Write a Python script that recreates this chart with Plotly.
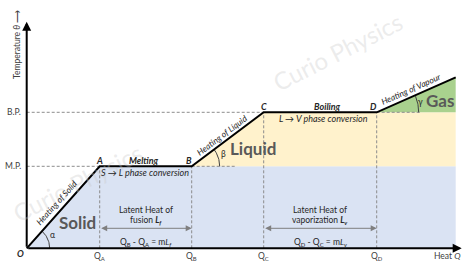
import numpy as np
import plotly.graph_objects as go

# ---- data (heat Q and temperature θ, arbitrary units) ----
point_names = ["O", "A", "B", "C", "D"]
heat_q = [0, 73, 165, 237, 350, 429]          # O, Q_A, Q_B, Q_C, Q_D, end
temperature = [0, 82, 82, 136, 136, 171]      # O, M.P., M.P., B.P., B.P., end
q_tick_labels = ["Q<sub>A</sub>", "Q<sub>B</sub>", "Q<sub>C</sub>", "Q<sub>D</sub>"]
t_tick_labels = ["M.P.", "B.P."]
melting_point = 82
boiling_point = 136

QA, QB, QC, QD, QE = heat_q[1:]
MP, BP, TE = melting_point, boiling_point, temperature[-1]

W, H = 474, 266
X0, Y0 = 26.7, 248.3   # origin position (pixels) -> used for axis ranges only

FONT = "Lato, 'Open Sans', sans-serif"
DARK = "#262626"
GREY_TXT = "#595959"
DASH = "#8c8c8c"

fig = go.Figure()

# ---- phase regions ----
fig.add_trace(go.Scatter(x=[0, QA, QE, QE, 0], y=[0, MP, MP, 0, 0], fill="toself",
                         fillcolor="#dae3f3", line=dict(width=0), mode="lines", hoverinfo="skip"))
fig.add_trace(go.Scatter(x=[QB, QC, QE, QE, QB], y=[MP, BP, BP, MP, MP], fill="toself",
                         fillcolor="#fff2cc", line=dict(width=0), mode="lines", hoverinfo="skip"))
fig.add_trace(go.Scatter(x=[QD, QE, QE, QD], y=[BP, TE, BP, BP], fill="toself",
                         fillcolor="#a9d18e", line=dict(width=0), mode="lines", hoverinfo="skip"))

# ---- dashed guides ----
def dashed(xs, ys):
    fig.add_trace(go.Scatter(x=xs, y=ys, mode="lines", hoverinfo="skip",
                             line=dict(color=DASH, width=1, dash="3px,2px")))

dashed([0, QA], [MP, MP])
dashed([0, QC], [BP, BP])
for q, t in [(QA, MP), (QB, MP), (QC, BP), (QD, BP)]:
    dashed([q, q], [0, t])
dashed([QB, QB + 43], [MP, MP])
dashed([QD, QD + 45], [BP, BP])

# ---- angle arcs ----
def arc(cx, cy, r, ang):
    t = np.linspace(0, ang, 30)
    fig.add_trace(go.Scatter(x=cx + r * np.cos(t), y=cy + r * np.sin(t), mode="lines",
                             hoverinfo="skip", line=dict(color="#404040", width=1)))

a_alpha = np.arctan2(MP, QA)
a_beta = np.arctan2(BP - MP, QC - QB)
a_gamma = np.arctan2(TE - BP, QE - QD)
arc(0, 0, 23, a_alpha)
arc(QB, MP, 28, a_beta)
arc(QD, BP, 42, a_gamma)

# ---- heating curve ----
fig.add_trace(go.Scatter(x=heat_q, y=temperature, mode="lines", hoverinfo="skip",
                         line=dict(color="black", width=2)))

ann = []

def arrow(x, y, ax, ay, color="black", width=2, head=2, size=1, side="end"):
    ann.append(dict(x=x, y=y, ax=ax, ay=ay, xref="x", yref="y", axref="x", ayref="y",
                    showarrow=True, arrowhead=head, arrowsize=size, arrowwidth=width,
                    arrowcolor=color, arrowside=side, startarrowhead=head,
                    startarrowsize=size, text=""))

# axes
arrow(QE + 6, 0, 0, 0, width=2, size=0.9)
arrow(0, 226.6, 0, 0, width=2, size=0.9)
# latent heat arrows
arrow(QB, 20, QA, 20, color="#7f7f7f", width=1, head=2, size=1.2, side="end+start")
arrow(QD, 20, QC, 20, color="#7f7f7f", width=1, head=2, size=1.2, side="end+start")

def text(x, y, s, size=8, color=DARK, angle=0, xanchor="center", bold=False, italic=False):
    if italic:
        s = "<i>" + s + "</i>"
    if bold:
        s = "<b>" + s + "</b>"
    ann.append(dict(x=x, y=y, xref="x", yref="y", text=s, showarrow=False,
                    textangle=angle, xanchor=xanchor, yanchor="middle",
                    font=dict(family=FONT, size=size, color=color)))

# watermarks
text(311, 197, "Curio Physics", size=24, color="rgba(200,200,200,0.35)", angle=-27)
text(51, 66, "Curio Physics", size=24, color="rgba(200,200,200,0.35)", angle=-27)

# point labels
text(-6, -5, "O", size=9, bold=True, italic=True)
text(QA, MP + 6, "A", size=9, bold=True, italic=True)
text(QB - 3, MP + 6, "B", size=9, bold=True, italic=True)
text(QC, BP + 6, "C", size=9, bold=True, italic=True)
text(QD - 3, BP + 6, "D", size=9, bold=True, italic=True)

# axis tick labels
for q, lab in zip(heat_q[1:5], q_tick_labels):
    text(q, -8, lab, size=8.5, color="#404040")
text(-4, MP, t_tick_labels[0], size=8.5, color="#404040", xanchor="right")
text(-4, BP, t_tick_labels[1], size=8.5, color="#404040", xanchor="right")
text(421, -8, "Heat <i>Q</i>", size=8.5, color="#404040")
text(-9, 204, "Temperature <i>θ</i> ⟶", size=8.5, color="#404040", angle=-90)

# segment descriptions
text(30, 45, "Heating of Solid", size=8.5, angle=-48, italic=True)
text(196, 113, "Heating of Liquid", size=8.5, angle=-37, italic=True)
text(385, 159, "Heating of Vapour", size=8.5, angle=-24, italic=True)
text((QA + QB) / 2 - 2, MP + 6, "Melting", size=9, bold=True, italic=True)
text((QA + QB) / 2 - 1, MP - 6.5, "S → L phase conversion", size=9, italic=True)
text((QC + QD) / 2 + 7, BP + 6, "Boiling", size=9, bold=True, italic=True)
text((QC + QD) / 2 + 3, BP - 6.5, "L → V phase conversion", size=9, italic=True)

# phase names
text(51, 26, "<b>Solid</b>", size=17, color=GREY_TXT)
text(226, 100, "<b>Liquid</b>", size=17, color=GREY_TXT)
text(413, 148, "<b>Gas</b>", size=17, color=GREY_TXT)

# angle symbols
text(26, 13, "α", size=8.5)
text(197, 94, "β", size=8.5)
text(394, 146, "γ", size=8.5)

# latent heat notes
for qa, qb, l1, l2, eq in [
    (QA, QB, "Latent Heat of", "fusion <b><i>L<sub>f</sub></i></b>",
     "Q<sub>B</sub> - Q<sub>A</sub> = m<i>L<sub>f</sub></i>"),
    (QC, QD, "Latent Heat of", "vaporization <b><i>L<sub>v</sub></i></b>",
     "Q<sub>D</sub> - Q<sub>C</sub> = m<i>L<sub>v</sub></i>"),
]:
    cx = (qa + qb) / 2
    text(cx, 38.5, l1, size=8.5)
    text(cx, 27.5, l2, size=8.5)
    text(cx, 6, eq, size=8.5)

fig.update_layout(
    width=W, height=H, margin=dict(l=0, r=0, t=0, b=0),
    paper_bgcolor="white", plot_bgcolor="white", showlegend=False,
    xaxis=dict(range=[-X0, W - X0], visible=False, fixedrange=True),
    yaxis=dict(range=[Y0 - H, Y0], visible=False, fixedrange=True),
    annotations=ann,
)

fig.write_html("out.html")
